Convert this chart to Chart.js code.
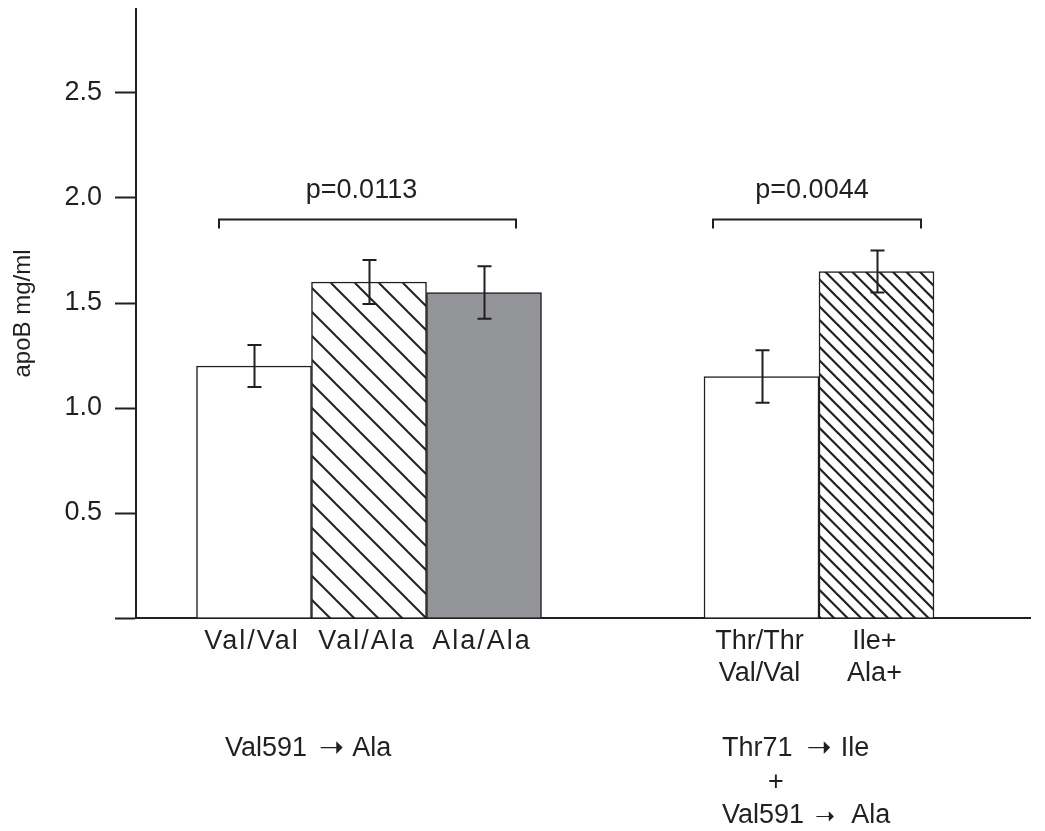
<!DOCTYPE html>
<html>
<head>
<meta charset="utf-8">
<script src="https://cdn.jsdelivr.net/npm/chart.js@4/dist/chart.umd.min.js"></script>
<style>
html,body{margin:0;padding:0;background:#fff;}
#wrap{width:1045px;height:831px;position:relative;}
</style>
</head>
<body>
<div id="wrap"><canvas id="c"></canvas></div>
<script>
// ---------- data ----------
// group labels: each line is [left part, arrow, right part] or a single centred token
const groupLabels = [
  [["Val591", "\u279D", "Ala"]],
  [["Thr71", "\u279D", "Ile"], ["+"], ["Val591", "\u279D", "Ala"]]
];
const seriesNames = ["Val/Val", "Val/Ala", "Ala/Ala"];
const barLabels0 = [["Val/Val"], ["Thr/Thr", "Val/Val"]];
const barLabels1 = [["Val/Ala"], ["Ile+", "Ala+"]];
const barLabels2 = [["Ala/Ala"], null];
const values0 = [1.20, 1.15];
const values1 = [1.60, 1.65];
const values2 = [1.55, null];
const errors0 = [0.10, 0.125];
const errors1 = [0.105, 0.10];
const errors2 = [0.125, null];
const pValues = ["p=0.0113", "p=0.0044"];
const bracketLevel = [1.90, 1.90];
const yTickValues = [0, 0.5, 1.0, 1.5, 2.0, 2.5];
const yMax = 2.9;
const yTitle = "apoB mg/ml";

// ---------- styling / layout ----------
const INK = '#231f20';
const FONT = "'Liberation Sans', Arial, Helvetica, sans-serif";
const ARROW_FONT = "'DejaVu Sans', 'Liberation Sans', sans-serif";
const layoutCfg = {
  groupCenterPx: [369, 819],
  plotLeft: 136, plotRight: 1030,
  bracket: [{from: -150, to: 147, textDx: -6}, {from: -106, to: 102, textDx: -5}],
  groupLabelDx: [-144, -97],
  plusDx: -43,
  arrowGap: [[12, 8], [14, 9], [11, 16]],
  arrowSize: [30, 30, 24]
};

function hatch(tile, spacing, lw) {
  const c = document.createElement('canvas');
  c.width = tile; c.height = tile;
  const g = c.getContext('2d');
  g.fillStyle = '#fff'; g.fillRect(0, 0, tile, tile);
  g.strokeStyle = INK; g.lineWidth = lw;
  for (let o = -tile; o <= tile; o += spacing) {
    g.beginPath(); g.moveTo(o - 2, -2); g.lineTo(o + tile + 2, tile + 2); g.stroke();
  }
  return g.createPattern(c, 'repeat');
}
const sparseHatch = hatch(24, 24, 2);
const denseHatch = hatch(27, 13.5, 2.2);

const pxPerUnit = layoutCfg.groupCenterPx[1] - layoutCfg.groupCenterPx[0];
const xMin = -(layoutCfg.groupCenterPx[0] - layoutCfg.plotLeft) / pxPerUnit;
const xMax = 1 + (layoutCfg.plotRight - layoutCfg.groupCenterPx[1]) / pxPerUnit;

const allErrors = [errors0, errors1, errors2];
const allBarLabels = [barLabels0, barLabels1, barLabels2];

const annotPlugin = {
  id: 'annot',
  afterDatasetsDraw(chart) {
    const ctx = chart.ctx;
    const ys = chart.scales.y, xs = chart.scales.x;
    const bottom = chart.chartArea.bottom;
    ctx.save();
    ctx.strokeStyle = INK; ctx.fillStyle = INK;
    // error bars
    chart.data.datasets.forEach((ds, d) => {
      const meta = chart.getDatasetMeta(d);
      ds.data.forEach((v, g) => {
        if (v === null) return;
        const e = allErrors[d][g];
        const bar = meta.data[g];
        const x = Math.round(bar.x) + 0.5;
        const yt = ys.getPixelForValue(v + e), yb = ys.getPixelForValue(v - e);
        ctx.lineWidth = 2;
        ctx.beginPath();
        ctx.moveTo(x, yt); ctx.lineTo(x, yb);
        ctx.moveTo(x - 7, yt); ctx.lineTo(x + 7, yt);
        ctx.moveTo(x - 7, yb); ctx.lineTo(x + 7, yb);
        ctx.stroke();
      });
    });
    // brackets + p values
    pValues.forEach((p, g) => {
      const cx = xs.getPixelForValue(g);
      const b = layoutCfg.bracket[g];
      const y = Math.round(ys.getPixelForValue(bracketLevel[g])) + 0.5;
      ctx.lineWidth = 2;
      ctx.beginPath();
      ctx.moveTo(cx + b.from, y + 9); ctx.lineTo(cx + b.from, y);
      ctx.lineTo(cx + b.to, y); ctx.lineTo(cx + b.to, y + 9);
      ctx.stroke();
      ctx.font = '27px ' + FONT;
      ctx.textAlign = 'center'; ctx.textBaseline = 'alphabetic';
      ctx.fillText(p, cx + (b.from + b.to) / 2 + b.textDx, y - 22);
    });
    // bar labels
    ctx.font = '27px ' + FONT;
    ctx.textAlign = 'center'; ctx.textBaseline = 'alphabetic';
    chart.data.datasets.forEach((ds, d) => {
      const meta = chart.getDatasetMeta(d);
      ds.data.forEach((v, g) => {
        const lines = allBarLabels[d][g];
        if (!lines || v === null) return;
        const x = meta.data[g].x;
        ctx.letterSpacing = lines.length === 1 ? '2px' : '0px';
        lines.forEach((t, i) => ctx.fillText(t, x + (lines.length === 1 ? -2 : -2), bottom + 31 + i * 32));
      });
    });
    ctx.letterSpacing = '0px';
    // group labels
    let arrowIdx = 0;
    groupLabels.forEach((lines, g) => {
      const cx = xs.getPixelForValue(g);
      const lx = cx + layoutCfg.groupLabelDx[g];
      lines.forEach((parts, i) => {
        const yb = bottom + 138 + i * 33.5;
        ctx.font = '27px ' + FONT;
        if (parts.length === 1) {
          ctx.textAlign = 'center';
          ctx.fillText(parts[0], cx + layoutCfg.plusDx, yb);
          return;
        }
        ctx.textAlign = 'left';
        let x = lx;
        ctx.fillText(parts[0], x, yb);
        x += ctx.measureText(parts[0]).width;
        const gap = layoutCfg.arrowGap[arrowIdx];
        const size = layoutCfg.arrowSize[arrowIdx++];
        x += gap[0];
        ctx.font = size + 'px ' + ARROW_FONT;
        ctx.fillText(parts[1], x, yb + 1);
        x += ctx.measureText(parts[1]).width + gap[1];
        ctx.font = '27px ' + FONT;
        ctx.fillText(parts[2], x, yb);
      });
    });
    ctx.restore();
  }
};

new Chart(document.getElementById('c'), {
  type: 'bar',
  data: {
    labels: groupLabels.map((_, i) => i),
    datasets: [
      { label: seriesNames[0], data: values0, backgroundColor: '#ffffff' },
      { label: seriesNames[1], data: values1, backgroundColor: [sparseHatch, denseHatch] },
      { label: seriesNames[2], data: values2, backgroundColor: '#939598' }
    ]
  },
  options: {
    responsive: true,
    maintainAspectRatio: false,
    animation: false,
    devicePixelRatio: 1,
    layout: { padding: { top: 9, right: 15, bottom: 0, left: 0 } },
    datasets: { bar: { barThickness: 115, skipNull: true, grouped: true, borderColor: INK, borderWidth: 1.5, borderSkipped: 'start' } },
    plugins: { legend: { display: false }, tooltip: { enabled: false }, title: { display: false } },
    scales: {
      x: {
        type: 'linear', min: xMin, max: xMax, z: 1, offset: false, bounds: 'data',
        grid: { display: true, drawOnChartArea: false, drawTicks: false, offset: false },
        border: { display: true, color: INK, width: 2 },
        ticks: { display: false },
        afterFit: s => { s.height = 831 - 618; s.paddingLeft = 0; s.paddingRight = 0; }
      },
      y: {
        min: 0, max: yMax,
        grid: { display: true, drawOnChartArea: false, drawTicks: true, tickLength: 21, tickWidth: 2, tickColor: INK },
        border: { display: true, color: INK, width: 2 },
        afterBuildTicks: s => { s.ticks = yTickValues.map(v => ({ value: v })); },
        ticks: {
          color: INK, padding: 13,
          font: { family: FONT, size: 27 },
          callback: v => (v === 0 ? '' : Number(v).toFixed(1))
        },
        title: { display: true, text: yTitle, color: INK, font: { family: FONT, size: 24 }, padding: { top: 9, bottom: 0 } },
        afterFit: s => { s.width = 136; s.paddingTop = 0; s.paddingBottom = 0; }
      }
    }
  },
  plugins: [annotPlugin]
});
</script>
</body>
</html>
